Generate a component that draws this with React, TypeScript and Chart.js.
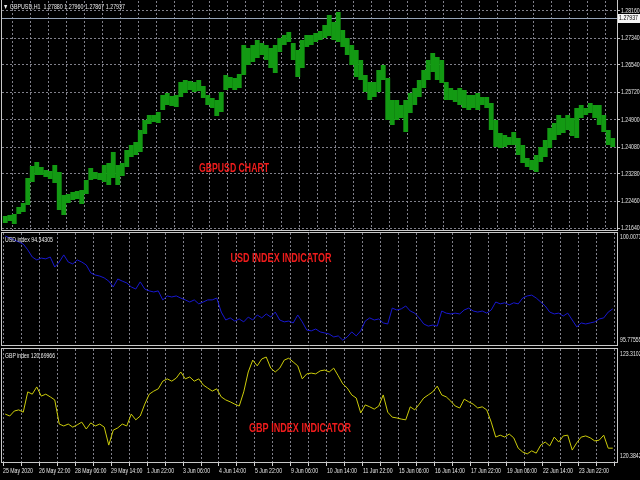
import { useEffect, useRef } from 'react';
import { Chart, registerables } from 'chart.js';

Chart.register(...registerables);

// ---------- data ----------
const TIME_LABELS = [
  '25 May 2020', '26 May 22:00', '28 May 06:00', '29 May 14:00', '1 Jun 22:00', '3 Jun 06:00',
  '4 Jun 14:00', '5 Jun 22:00', '9 Jun 06:00', '10 Jun 14:00', '11 Jun 22:00', '15 Jun 06:00',
  '16 Jun 14:00', '17 Jun 22:00', '19 Jun 06:00', '22 Jun 14:00', '23 Jun 22:00',
];
const BARS_PER_POINT = 4; // each stored point summarises 4 hourly bars
const BARS_PER_LABEL = 32;
const BARS_PER_GRID = 16;
const TOTAL_BARS = 546;

const PRICE_TICKS = [1.2164, 1.2246, 1.2328, 1.2408, 1.249, 1.2572, 1.2654, 1.2734, 1.2816];
const LAST_PRICE = 1.27937;
const TITLE = '\u25BC GBPUSD,H1  1.27880 1.27960 1.27867 1.27937';

const GBPUSD_HIGH = [
  1.2201, 1.2204, 1.2207, 1.2228, 1.224, 1.2315, 1.2351, 1.2363, 1.2348, 1.2339,
  1.2336, 1.2354, 1.2333, 1.2264, 1.2267, 1.2273, 1.2276, 1.2279, 1.2309, 1.2345,
  1.2333, 1.233, 1.2354, 1.236, 1.2393, 1.2354, 1.236, 1.2399, 1.2414, 1.2423,
  1.2459, 1.2489, 1.2504, 1.2504, 1.2513, 1.2564, 1.257, 1.2561, 1.2564, 1.2603,
  1.2609, 1.2606, 1.2603, 1.2609, 1.2591, 1.2564, 1.2555, 1.2549, 1.2573, 1.2624,
  1.2618, 1.2615, 1.2627, 1.2714, 1.2705, 1.2714, 1.2729, 1.272, 1.2714, 1.2705,
  1.2714, 1.2735, 1.2744, 1.2753, 1.272, 1.2699, 1.2729, 1.2744, 1.2744, 1.275,
  1.2756, 1.2774, 1.2804, 1.2783, 1.2813, 1.2759, 1.2735, 1.2714, 1.2699, 1.2669,
  1.2624, 1.2603, 1.2603, 1.2639, 1.2654, 1.2615, 1.2549, 1.2549, 1.2534, 1.2549,
  1.257, 1.2585, 1.2609, 1.2639, 1.2669, 1.269, 1.2678, 1.2669, 1.2603, 1.2585,
  1.2579, 1.2585, 1.2579, 1.2564, 1.2564, 1.257, 1.2558, 1.2558, 1.254, 1.2489,
  1.245, 1.2444, 1.2438, 1.2453, 1.2435, 1.2414, 1.2375, 1.2369, 1.2384, 1.2408,
  1.2429, 1.2465, 1.248, 1.2504, 1.2495, 1.2504, 1.2495, 1.2525, 1.2534, 1.2525,
  1.254, 1.2534, 1.2534, 1.2504, 1.2459, 1.2435,
];
const GBPUSD_LOW = [
  1.218, 1.2186, 1.2177, 1.2207, 1.2213, 1.2234, 1.2303, 1.2324, 1.2324, 1.2318,
  1.2312, 1.23, 1.2219, 1.2204, 1.224, 1.2249, 1.2252, 1.2237, 1.2267, 1.2309,
  1.2312, 1.2309, 1.2303, 1.2294, 1.2315, 1.2294, 1.2321, 1.2348, 1.2378, 1.2384,
  1.2393, 1.2447, 1.2477, 1.2483, 1.248, 1.2519, 1.2534, 1.2531, 1.2528, 1.2558,
  1.257, 1.2579, 1.2573, 1.2576, 1.2555, 1.2534, 1.2525, 1.2501, 1.2513, 1.2579,
  1.2585, 1.2579, 1.2585, 1.2624, 1.2654, 1.2663, 1.2675, 1.2684, 1.2669, 1.2645,
  1.263, 1.2693, 1.2714, 1.2723, 1.2669, 1.2618, 1.2645, 1.2708, 1.2714, 1.2723,
  1.2729, 1.2735, 1.2741, 1.2729, 1.2723, 1.2708, 1.2684, 1.2654, 1.2618, 1.2609,
  1.2573, 1.2549, 1.2558, 1.2573, 1.2609, 1.2489, 1.2474, 1.2489, 1.2495, 1.2453,
  1.251, 1.2534, 1.2558, 1.2585, 1.2609, 1.2633, 1.2609, 1.26, 1.2549, 1.2549,
  1.2543, 1.2534, 1.2525, 1.2519, 1.2525, 1.2519, 1.2534, 1.2525, 1.2459, 1.2408,
  1.2405, 1.2408, 1.2414, 1.2414, 1.2384, 1.236, 1.2348, 1.2339, 1.2333, 1.2363,
  1.2378, 1.2405, 1.2429, 1.2444, 1.245, 1.2459, 1.2441, 1.2435, 1.2495, 1.2504,
  1.251, 1.2495, 1.2474, 1.2453, 1.2414, 1.2408,
];

const USD_LABEL = 'USD index 94.34305';
const USD_AXIS_LABELS = ['95.77555', '100.0073'];
const USD_INDEX = [
  99.89, 99.82, 99.74, 99.67, 99.59, 99.37, 99.1, 98.99, 99.06, 99.03,
  99.1, 98.72, 98.91, 99.18, 98.91, 98.84, 98.99, 98.91, 98.8, 98.5,
  98.42, 98.38, 98.31, 98.19, 97.97, 98.27, 98.19, 98.12, 97.97, 97.89,
  98.16, 97.89, 97.82, 97.78, 97.82, 97.48, 97.63, 97.59, 97.63, 97.55,
  97.48, 97.4, 97.48, 97.33, 97.4, 97.48, 97.48, 97.55, 97.02, 96.72,
  96.8, 96.68, 96.76, 96.65, 96.83, 96.72, 96.91, 96.8, 96.95, 96.83,
  97.02, 96.72, 96.65, 96.68, 96.61, 96.91, 96.65, 96.34, 96.31, 96.38,
  96.27, 96.23, 96.19, 96.08, 96.12, 95.96, 96.08, 96.27, 96.12, 96.31,
  96.68, 96.8, 96.72, 96.76, 96.61, 96.57, 97.17, 97.1, 97.14, 97.25,
  97.06, 96.98, 96.8, 96.57, 96.49, 96.53, 96.49, 97.06, 96.98, 96.95,
  96.98, 96.95, 97.1, 97.17, 97.06, 97.02, 97.06, 96.98, 97.1, 97.4,
  97.33, 97.37, 97.29, 97.37, 97.33, 97.55, 97.63, 97.66, 97.55, 97.4,
  97.25, 97.02, 96.95, 96.98, 96.87, 96.98, 96.72, 96.46, 96.61, 96.57,
  96.61, 96.65, 96.76, 96.8, 97.02, 97.14,
];

const GBP_LABEL = 'GBP index 120.69966';
const GBP_AXIS_LABELS = ['120.3842', '123.3102'];
const GBP_INDEX = [
  121.61, 121.56, 121.69, 121.72, 121.66, 122.19, 122.13, 122.32, 122.08, 122.13,
  122.06, 121.98, 121.35, 121.3, 121.35, 121.27, 121.33, 121.4, 121.22, 121.38,
  121.3, 121.35, 121.27, 120.8, 121.19, 121.25, 121.35, 121.3, 121.61, 121.46,
  121.56, 121.87, 122.13, 122.21, 122.27, 122.47, 122.53, 122.47, 122.55, 122.71,
  122.53, 122.58, 122.47, 122.53, 122.37, 122.29, 122.21, 122.27, 122.06, 121.98,
  121.93, 121.87, 121.82, 122.19, 122.71, 123.02, 122.87, 123.05, 123.1, 122.81,
  122.71, 122.81, 123.02, 123.07, 122.97, 122.87, 122.53, 122.66, 122.68, 122.66,
  122.74, 122.76, 122.71, 122.81, 122.61, 122.4, 122.29, 122.11, 122.03, 121.64,
  121.85, 121.8, 121.74, 121.82, 122.11, 121.66, 121.53, 121.51, 121.48, 121.46,
  121.8, 121.72, 121.87, 122.03, 122.11, 122.19, 122.34, 122.11, 122.06, 121.95,
  121.82, 121.77, 122.0, 121.93, 121.87, 121.77, 121.8, 121.72, 121.4, 121.01,
  121.06, 121.01, 121.09, 120.99, 120.72, 120.62, 120.57, 120.65, 120.59, 120.8,
  120.88, 120.78, 121.01, 120.88, 121.04, 121.06, 120.67, 120.86, 121.01, 121.04,
  120.99, 120.91, 120.93, 121.06, 120.72, 120.72,
];

const CHART_LABELS = ['GBPUSD CHART', 'USD INDEX INDICATOR', 'GBP INDEX INDICATOR'];

// ---------- style / layout ----------
const GREEN = '#139a13';
const BLUE = '#1818d0';
const YELLOW = '#cccc0a';
const RED = '#f01c1c';
const GRID = 'rgba(150,150,162,0.85)';
const AXIS_TEXT = '#e6e6e6';
const FRAME = '#c8c8c8';
const SANS = "'Liberation Sans', Arial, sans-serif";
const TICK_FONT = { family: SANS, size: 7 };
const CONDENSE = 0.74;
const X_MIN = -0.9;
const X_MAX = 545.8;

const barPos = (i: number) => i * BARS_PER_POINT + BARS_PER_POINT / 2;

function fitText(
  ctx: CanvasRenderingContext2D, text: string, x: number, y: number, width: number,
  font: string, color: string, center = false,
) {
  ctx.save();
  ctx.font = font;
  ctx.fillStyle = color;
  ctx.textBaseline = 'middle';
  ctx.textAlign = 'left';
  const w = ctx.measureText(text).width || 1;
  ctx.translate(center ? x - width / 2 : x, y);
  ctx.scale(width / w, 1);
  ctx.fillText(text, 0, 0);
  ctx.restore();
}

// draw the axis' own label items with a narrow (condensed) horizontal scale,
// like the terminal's compact font
function condenseLabels(s: any) {
  if (s.__condensed) return;
  s.__condensed = true;
  s.drawLabels = function (area: any) {
    if (!this.options.ticks.display) return;
    const ctx: CanvasRenderingContext2D = this.ctx;
    const items = this.getLabelItems(area);
    for (const it of items) {
      const o = it.options;
      ctx.save();
      ctx.font = it.font.string;
      ctx.fillStyle = o.color;
      ctx.textAlign = o.textAlign;
      ctx.textBaseline = o.textBaseline;
      ctx.translate(o.translation[0], o.translation[1]);
      ctx.scale(CONDENSE, 1);
      ctx.fillText(String(it.label), 0, it.textOffset);
      ctx.restore();
    }
  };
}

function xScale(showTime: boolean): any {
  return {
    type: 'linear',
    min: X_MIN,
    max: X_MAX,
    offset: false,
    bounds: 'data',
    afterBuildTicks: (s: any) => {
      const t: any[] = [];
      for (let v = 0; v < TOTAL_BARS; v += BARS_PER_GRID) t.push({ value: v });
      s.ticks = t;
    },
    ticks: {
      display: showTime,
      autoSkip: false,
      maxRotation: 0,
      minRotation: 0,
      align: 'start',
      padding: 1,
      color: AXIS_TEXT,
      font: TICK_FONT,
      callback: (v: any) => {
        const n = Number(v);
        return n % BARS_PER_LABEL === 0 ? TIME_LABELS[n / BARS_PER_LABEL] ?? '' : '';
      },
    },
    grid: { color: GRID, drawTicks: showTime, tickLength: 4, tickColor: '#d0d0d0', tickBorderDash: [] },
    border: { display: false, dash: [2, 2] },
    afterFit: (s: any) => {
      s.height = showTime ? 18 : 0;
      s.paddingLeft = 0;
      s.paddingRight = 0;
    },
    afterUpdate: condenseLabels,
  };
}

function subY(min: number, max: number, tickVals: number[], labels: string[]): any {
  return {
    position: 'right',
    min,
    max,
    bounds: 'data',
    afterBuildTicks: (s: any) => { s.ticks = tickVals.map((v) => ({ value: v })); },
    ticks: {
      color: AXIS_TEXT,
      font: TICK_FONT,
      padding: 3,
      autoSkip: false,
      callback: (_v: any, i: number) => labels[i],
    },
    grid: { display: false, drawTicks: false },
    border: { display: false },
    afterFit: (s: any) => { s.width = 23; s.paddingTop = 0; s.paddingBottom = 0; },
    afterUpdate: condenseLabels,
  };
}

function framePlugin(drawTop: boolean, extra: (ctx: CanvasRenderingContext2D, chart: any) => void, under?: (ctx: CanvasRenderingContext2D, chart: any) => void) {
  return {
    id: 'paneFrame',
    beforeDatasetsDraw(chart: any) {
      if (under) under(chart.ctx, chart);
    },
    afterDraw(chart: any) {
      const { ctx, chartArea: a } = chart;
      ctx.save();
      ctx.lineWidth = 1;
      ctx.strokeStyle = FRAME;
      ctx.beginPath();
      ctx.moveTo(a.left - 0.5, a.top - 1);
      ctx.lineTo(a.left - 0.5, a.bottom + 1);
      ctx.moveTo(a.right + 0.5, a.top - 1);
      ctx.lineTo(a.right + 0.5, a.bottom + 1);
      ctx.moveTo(a.left - 1, a.bottom + 0.5);
      ctx.lineTo(a.right + 1, a.bottom + 0.5);
      if (drawTop) {
        ctx.moveTo(a.left - 1, a.top - 0.5);
        ctx.lineTo(a.right + 1, a.top - 0.5);
      }
      ctx.stroke();
      ctx.restore();
      extra(ctx, chart);
    },
  };
}

const baseOptions = (padTop: number, padBottom: number) => ({
  responsive: false,
  maintainAspectRatio: false,
  animation: false as const,
  devicePixelRatio: 1,
  layout: { padding: { left: 2, right: 0, top: padTop, bottom: padBottom } },
  plugins: { legend: { display: false }, tooltip: { enabled: false }, title: { display: false } },
  events: [] as any[],
});

export default function App() {
  const mainRef = useRef<HTMLCanvasElement>(null);
  const usdRef = useRef<HTMLCanvasElement>(null);
  const gbpRef = useRef<HTMLCanvasElement>(null);

  useEffect(() => {
    document.body.style.margin = '0';
    const charts: Chart[] = [];

    // ---- main GBPUSD pane ----
    charts.push(new Chart(mainRef.current!, {
      type: 'bar',
      data: {
        datasets: [{
          data: GBPUSD_HIGH.map((h, i) => ({ x: barPos(i), y: [GBPUSD_LOW[i], h] })) as any,
          backgroundColor: GREEN,
          borderWidth: 0,
          barPercentage: 1.08,
          categoryPercentage: 1,
        }],
      },
      options: {
        ...baseOptions(1, 1),
        scales: {
          x: xScale(false),
          y: {
            position: 'right',
            min: 1.2159,
            max: 1.2846,
            bounds: 'data',
            afterBuildTicks: (s: any) => { s.ticks = PRICE_TICKS.map((v) => ({ value: v })); },
            ticks: {
              color: AXIS_TEXT,
              font: TICK_FONT,
              padding: 1,
              autoSkip: false,
              callback: (v: any) => Number(v).toFixed(5),
            },
            grid: { color: GRID, tickLength: 3, tickColor: '#c8c8c8', tickBorderDash: [] },
            border: { display: false, dash: [2, 2] },
            afterFit: (s: any) => { s.width = 23; s.paddingTop = 0; s.paddingBottom = 0; },
            afterUpdate: condenseLabels,
          } as any,
        },
      } as any,
      plugins: [framePlugin(false, (ctx, chart) => {
        const a = chart.chartArea;
        const y = Math.round(chart.scales.y.getPixelForValue(LAST_PRICE)) + 0.5;
        ctx.save();
        ctx.fillStyle = '#f4f4f4';
        ctx.fillRect(a.right + 1, y - 4.5, 23, 9);
        ctx.restore();
        fitText(ctx, LAST_PRICE.toFixed(5), a.right + 2, y, 19, `7px ${SANS}`, '#000');
        fitText(ctx, TITLE, 3, 7, 122, `7px ${SANS}`, '#ececec');
        fitText(ctx, CHART_LABELS[0], 234, 169, 70, `bold 12px ${SANS}`, RED, true);
      }, (ctx, chart) => {
        const a = chart.chartArea;
        const y = Math.round(chart.scales.y.getPixelForValue(LAST_PRICE)) + 0.5;
        ctx.save();
        ctx.strokeStyle = '#95a3b8';
        ctx.lineWidth = 1;
        ctx.beginPath();
        ctx.moveTo(a.left, y);
        ctx.lineTo(a.right, y);
        ctx.stroke();
        ctx.restore();
      })],
    }));

    // ---- USD index pane (canvas top = 232) ----
    charts.push(new Chart(usdRef.current!, {
      type: 'line',
      data: {
        datasets: [{
          data: USD_INDEX.map((v, i) => ({ x: barPos(i), y: v })),
          borderColor: BLUE,
          borderWidth: 1,
          pointRadius: 0,
          tension: 0,
        }],
      },
      options: {
        ...baseOptions(1, 2),
        scales: {
          x: xScale(false),
          y: subY(95.776, 100.0073, [95.946, 99.837], USD_AXIS_LABELS),
        },
      } as any,
      plugins: [framePlugin(true, (ctx) => {
        fitText(ctx, USD_LABEL, 5, 8, 48, `7px ${SANS}`, '#ececec');
        fitText(ctx, CHART_LABELS[1], 281, 27, 101, `bold 12px ${SANS}`, RED, true);
      })],
    }));

    // ---- GBP index pane (canvas top = 347) ----
    charts.push(new Chart(gbpRef.current!, {
      type: 'line',
      data: {
        datasets: [{
          data: GBP_INDEX.map((v, i) => ({ x: barPos(i), y: v })),
          borderColor: YELLOW,
          borderWidth: 1,
          pointRadius: 0,
          tension: 0,
        }],
      },
      options: {
        ...baseOptions(2, 0),
        scales: {
          x: xScale(true),
          y: subY(120.359, 123.31, [120.502, 123.18], GBP_AXIS_LABELS),
        },
      } as any,
      plugins: [framePlugin(true, (ctx) => {
        fitText(ctx, GBP_LABEL, 5, 9, 50, `7px ${SANS}`, '#ececec');
        fitText(ctx, CHART_LABELS[2], 300, 82, 102, `bold 12px ${SANS}`, RED, true);
      })],
    }));

    return () => charts.forEach((c) => c.destroy());
  }, []);

  return (
    <div style={{ position: 'absolute', left: 0, top: 0, width: 640, height: 480, background: '#000', overflow: 'hidden' }}>
      <canvas ref={mainRef} width={640} height={231} style={{ position: 'absolute', left: 0, top: 0 }} />
      <canvas ref={usdRef} width={640} height={115} style={{ position: 'absolute', left: 0, top: 232 }} />
      <canvas ref={gbpRef} width={640} height={133} style={{ position: 'absolute', left: 0, top: 347 }} />
    </div>
  );
}
